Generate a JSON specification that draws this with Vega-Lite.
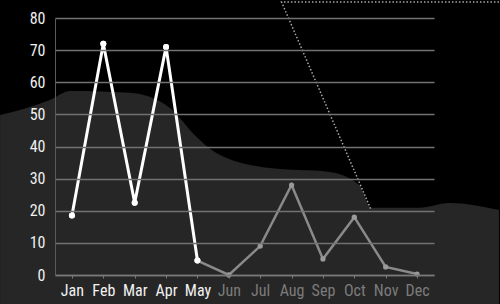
{
  "$schema": "https://vega.github.io/schema/vega-lite/v6.json",
  "width": 379,
  "height": 257,
  "autosize": {"type": "none"},
  "padding": {"left": 55, "top": 18, "right": 66, "bottom": 29},
  "background": "#000000",
  "config": {
    "view": {"stroke": null},
    "font": "'Roboto Condensed', 'DejaVu Sans Condensed', 'Liberation Sans Narrow', Roboto, sans-serif",
    "axis": {"labelFont": "'Roboto Condensed', 'DejaVu Sans Condensed', 'Liberation Sans Narrow', Roboto, sans-serif", "labelFontSize": 16}
  },
  "datasets": {
    "sales": [
      {"month": "Jan", "value": 18.5, "seg": "a"},
      {"month": "Feb", "value": 72, "seg": "a"},
      {"month": "Mar", "value": 22.5, "seg": "a"},
      {"month": "Apr", "value": 71, "seg": "a"},
      {"month": "May", "value": 4.5, "seg": "a"},
      {"month": "May", "value": 4.5, "seg": "b"},
      {"month": "Jun", "value": 0, "seg": "b"},
      {"month": "Jul", "value": 9, "seg": "b"},
      {"month": "Aug", "value": 28, "seg": "b"},
      {"month": "Sep", "value": 5, "seg": "b"},
      {"month": "Oct", "value": 18, "seg": "b"},
      {"month": "Nov", "value": 2.5, "seg": "b"},
      {"month": "Dec", "value": 0.3, "seg": "b"}
    ],
    "backdrop": [
      {"bx": -2.29, "by": 49.8},
      {"bx": -0.7, "by": 54.5},
      {"bx": -0.06, "by": 57.3},
      {"bx": 1.84, "by": 56.7},
      {"bx": 3.12, "by": 52.0},
      {"bx": 3.91, "by": 43.6},
      {"bx": 4.55, "by": 38.3},
      {"bx": 6.3, "by": 33.3},
      {"bx": 8.2, "by": 32.1},
      {"bx": 9.16, "by": 28.0},
      {"bx": 9.54, "by": 20.9},
      {"bx": 11.07, "by": 20.9},
      {"bx": 12.02, "by": 22.4},
      {"bx": 13.61, "by": 20.2}
    ],
    "guide": [
      {"i": 0, "gx": 13.61, "gy": 85.0},
      {"i": 1, "gx": 6.68, "gy": 85.0},
      {"i": 2, "gx": 9.54, "gy": 20.2}
    ]
  },
  "layer": [
    {
      "data": {"name": "backdrop"},
      "mark": {"type": "area", "color": "#262626", "clip": false, "interpolate": "monotone"},
      "encoding": {
        "x": {"field": "bx", "type": "quantitative", "axis": null, "scale": {"domain": [-0.54, 11.54], "nice": false, "zero": false}},
        "y": {"field": "by", "type": "quantitative", "axis": null, "scale": {"domain": [0, 80], "nice": false}},
        "y2": {"datum": -9.5}
      }
    },
    {
      "data": {"name": "guide"},
      "mark": {"type": "line", "color": "#a8a8a8", "strokeWidth": 1.5, "strokeDash": [1.5, 2], "clip": false},
      "encoding": {
        "x": {"field": "gx", "type": "quantitative", "axis": null, "scale": {"domain": [-0.54, 11.54], "nice": false, "zero": false}},
        "y": {"field": "gy", "type": "quantitative", "axis": null, "scale": {"domain": [0, 80], "nice": false}},
        "order": {"field": "i", "type": "quantitative"}
      }
    },
    {
      "data": {"name": "sales"},
      "transform": [{"filter": "datum.seg == 'a'"}],
      "mark": {"type": "point", "filled": true, "color": "#ffffff", "size": 36, "opacity": 1},
      "encoding": {
        "x": {
          "field": "month", "type": "ordinal", "sort": null,
          "scale": {"type": "point", "padding": 0.54, "domain": ["Jan","Feb","Mar","Apr","May","Jun","Jul","Aug","Sep","Oct","Nov","Dec"]},
          "axis": {
            "title": null,
            "zindex": 1,
            "labelAngle": 0,
            "domainColor": "#7a7a7a",
            "domainWidth": 1.5,
            "tickColor": "#7a7a7a",
            "tickSize": 3,
            "labelPadding": 4,
            "labelColor": {"condition": {"test": "indexof(['Jan','Feb','Mar','Apr','May'], datum.value) >= 0", "value": "#f2f2f2"}, "value": "#7c7c7c"},
            "grid": false
          }
        },
        "y": {
          "field": "value", "type": "quantitative",
          "scale": {"domain": [0, 80], "nice": false},
          "axis": {
            "title": null,
            "zindex": 1,
            "values": [0, 10, 20, 30, 40, 50, 60, 70, 80],
            "grid": true,
            "gridColor": "#727272",
            "gridWidth": 1.5,
            "domainColor": "#5a5a5a",
            "domainWidth": 1,
            "ticks": false,
            "labelPadding": 10,
            "labelColor": "#f0f0f0"
          }
        }
      }
    },
    {
      "data": {"name": "sales"},
      "transform": [{"filter": "datum.seg == 'b'"}],
      "mark": {"type": "line", "color": "#8a8a8a", "strokeWidth": 2.5},
      "encoding": {
        "x": {"field": "month", "type": "ordinal", "sort": null, "axis": null, "scale": {"type": "point", "padding": 0.54, "domain": ["Jan","Feb","Mar","Apr","May","Jun","Jul","Aug","Sep","Oct","Nov","Dec"]}},
        "y": {"field": "value", "type": "quantitative", "axis": null, "scale": {"domain": [0, 80], "nice": false}}
      }
    },
    {
      "data": {"name": "sales"},
      "transform": [{"filter": "datum.seg == 'b' && datum.month != 'May'"}],
      "mark": {"type": "point", "filled": true, "color": "#9a9a9a", "size": 28, "opacity": 1},
      "encoding": {
        "x": {"field": "month", "type": "ordinal", "sort": null, "axis": null, "scale": {"type": "point", "padding": 0.54, "domain": ["Jan","Feb","Mar","Apr","May","Jun","Jul","Aug","Sep","Oct","Nov","Dec"]}},
        "y": {"field": "value", "type": "quantitative", "axis": null, "scale": {"domain": [0, 80], "nice": false}}
      }
    },
    {
      "data": {"name": "sales"},
      "transform": [{"filter": "datum.seg == 'a'"}],
      "mark": {"type": "line", "color": "#ffffff", "strokeWidth": 3},
      "encoding": {
        "x": {"field": "month", "type": "ordinal", "sort": null, "axis": null, "scale": {"type": "point", "padding": 0.54, "domain": ["Jan","Feb","Mar","Apr","May","Jun","Jul","Aug","Sep","Oct","Nov","Dec"]}},
        "y": {"field": "value", "type": "quantitative", "axis": null, "scale": {"domain": [0, 80], "nice": false}}
      }
    },
    {
      "data": {"name": "sales"},
      "transform": [{"filter": "datum.seg == 'a'"}],
      "mark": {"type": "point", "filled": true, "color": "#ffffff", "size": 36, "opacity": 1},
      "encoding": {
        "x": {"field": "month", "type": "ordinal", "sort": null, "axis": null, "scale": {"type": "point", "padding": 0.54, "domain": ["Jan","Feb","Mar","Apr","May","Jun","Jul","Aug","Sep","Oct","Nov","Dec"]}},
        "y": {"field": "value", "type": "quantitative", "axis": null, "scale": {"domain": [0, 80], "nice": false}}
      }
    }
  ],
  "resolve": {"scale": {"x": "independent", "y": "independent"}}
}
